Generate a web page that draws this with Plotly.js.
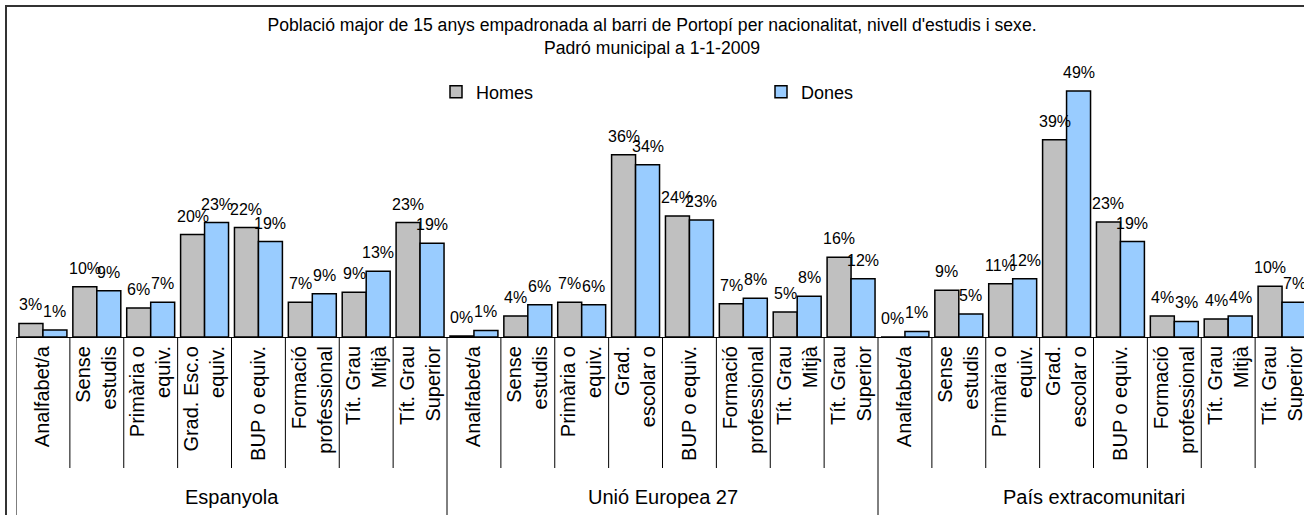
<!DOCTYPE html>
<html><head><meta charset="utf-8">
<script src="https://cdn.plot.ly/plotly-3.0.1.min.js"></script>
<style>html,body{margin:0;padding:0;overflow:hidden;background:#fff}#chart{width:1304px;height:515px}</style>
</head><body><div id="chart"></div>
<script>
// ---- data ----
const groups = ['Espanyola', 'Unió Europea 27', 'País extracomunitari'];
const levelsEspanyola = ['Analfabet/a', 'Sense<br>estudis', 'Primària o<br>equiv.', 'Grad. Esc.o<br>equiv.', 'BUP o equiv.', 'Formació<br>professional', 'Tít. Grau<br>Mitjà', 'Tít. Grau<br>Superior'];
const levelsAltres = ['Analfabet/a', 'Sense<br>estudis', 'Primària o<br>equiv.', 'Grad.<br>escolar o', 'BUP o equiv.', 'Formació<br>professional', 'Tít. Grau<br>Mitjà', 'Tít. Grau<br>Superior'];
const seriesNames = ['Homes', 'Dones'];
const homesEspanyola = [2.7, 10.0, 5.8, 20.4, 21.8, 6.9, 8.9, 22.8];
const donesEspanyola = [1.4, 9.2, 6.9, 22.8, 19.0, 8.6, 13.1, 18.7];
const homesUE27 = [0.2, 4.2, 6.9, 36.3, 24.1, 6.6, 5.0, 15.9];
const donesUE27 = [1.3, 6.4, 6.4, 34.3, 23.3, 7.7, 8.1, 11.6];
const homesExtra = [0.0, 9.3, 10.6, 39.3, 22.9, 4.2, 3.6, 10.1];
const donesExtra = [1.1, 4.6, 11.6, 49.0, 19.0, 3.1, 4.2, 6.9];

// ---- build ----
const tickLabels = levelsEspanyola.concat(levelsAltres, levelsAltres);
const homes = homesEspanyola.concat(homesUE27, homesExtra);
const dones = donesEspanyola.concat(donesUE27, donesExtra);
const xs = tickLabels.map((_, i) => i);
const perGroup = levelsEspanyola.length;

const FONT = 'Liberation Sans, Arial, sans-serif';
const BARGAP = 0.11;
const W = 1304, H = 515, ML = 16, MT = 86, MB = 178;
const plotW = W - ML, plotH = H - MT - MB;
const catPx = 53.875;

const traces = [
  {type: 'bar', name: seriesNames[0], x: xs, y: homes, marker: {color: '#C0C0C0', line: {color: '#000', width: 1.5}}, hoverinfo: 'skip'},
  {type: 'bar', name: seriesNames[1], x: xs, y: dones, marker: {color: '#99CCFF', line: {color: '#000', width: 1.5}}, hoverinfo: 'skip'}
];

const half = (1 - BARGAP) / 4;
const annotations = [];
[homes, dones].forEach((arr, s) => {
  arr.forEach((v, i) => {
    annotations.push({x: i + (s === 0 ? -half : half), y: v, xref: 'x', yref: 'y', text: Math.round(v) + '%',
      showarrow: false, yanchor: 'bottom', yshift: 8, font: {family: FONT, size: 16, color: '#000'}});
  });
});
groups.forEach((g, k) => {
  annotations.push({x: k * perGroup + (perGroup - 1) / 2, y: -(497 - (H - MB)) / plotH, xref: 'x', yref: 'paper',
    text: g, showarrow: false, yanchor: 'middle', font: {family: FONT, size: 20, color: '#000'}});
});

const shapes = [];
for (let i = 0; i <= xs.length; i++) {
  const isGroup = i % perGroup === 0;
  shapes.push({type: 'line', xref: 'x', yref: 'paper', x0: i - 0.5, x1: i - 0.5, y0: 0,
    y1: isGroup ? -1 : -131 / plotH, line: {color: '#000', width: 1}});
}
shapes.push({type: 'rect', xref: 'paper', yref: 'paper', x0: (6 - ML) / plotW, x1: 2, y0: -2, y1: (H - MB - 6) / plotH,
  line: {color: '#333', width: 2}, fillcolor: 'rgba(0,0,0,0)'});

const layout = {
  width: W, height: H,
  margin: {l: ML, r: 0, t: MT, b: MB, pad: 0},
  paper_bgcolor: '#fff', plot_bgcolor: '#fff',
  font: {family: FONT, color: '#000'},
  title: {text: 'Població major de 15 anys empadronada al barri de Portopí per nacionalitat, nivell d\'estudis i sexe.<br>Padró municipal a 1-1-2009',
    x: 0.5, xanchor: 'center', y: 1 - 31 / H, yanchor: 'top', yref: 'container', font: {family: FONT, size: 17.6, color: '#000'}},
  barmode: 'group', bargap: BARGAP, bargroupgap: 0,
  showlegend: true,
  legend: {orientation: 'h', x: (436 - ML) / plotW, xanchor: 'left', y: (H - MB - 92) / plotH, yanchor: 'middle',
    entrywidth: 280, entrywidthmode: 'pixels', font: {family: FONT, size: 18, color: '#000'}, bgcolor: 'rgba(0,0,0,0)'},
  xaxis: {range: [-0.5, -0.5 + plotW / catPx], tickmode: 'array', tickvals: xs, ticktext: tickLabels, tickangle: -90,
    ticks: '', showline: true, linecolor: '#000', linewidth: 1, showgrid: false, zeroline: false,
    ticklabeloverflow: 'allow', tickfont: {family: FONT, size: 20, color: '#000'}, fixedrange: true},
  yaxis: {range: [0, 50], visible: false, showgrid: false, zeroline: false, fixedrange: true},
  annotations: annotations,
  shapes: shapes
};

Plotly.newPlot('chart', traces, layout, {staticPlot: true, displayModeBar: false});
</script></body></html>
